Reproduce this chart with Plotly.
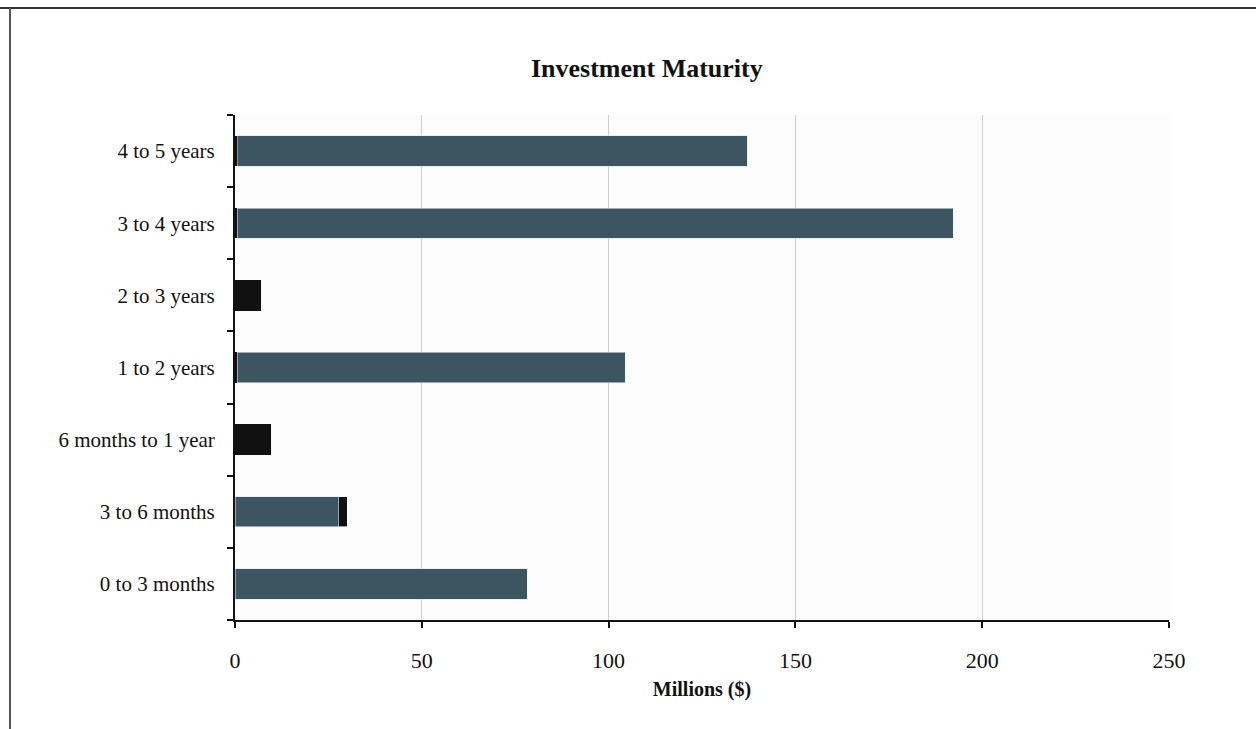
import plotly.graph_objects as go

categories = ["0 to 3 months", "3 to 6 months", "6 months to 1 year", "1 to 2 years",
              "2 to 3 years", "3 to 4 years", "4 to 5 years"]
lead_black = [0, 0, 9.9, 0.6, 7.2, 0.6, 0.8]
gray_vals = [78.4, 27.6, 0, 103.8, 0, 191.6, 136.5]
tail_black = [0, 2.5, 0, 0, 0, 0, 0]
x_ticks = [0, 50, 100, 150, 200, 250]

SERIF = "Liberation Serif, Times New Roman, serif"

fig = go.Figure()
fig.add_trace(go.Bar(y=categories, x=lead_black, orientation="h",
                     marker=dict(color="#111111", line=dict(width=0)), showlegend=False))
fig.add_trace(go.Bar(y=categories, x=gray_vals, orientation="h",
                     marker=dict(color="#3d5560", line=dict(width=0.6, color="#dfe4e6")), showlegend=False))
fig.add_trace(go.Bar(y=categories, x=tail_black, orientation="h",
                     marker=dict(color="#111111", line=dict(width=0.6, color="#ffffff")), showlegend=False))

fig.update_layout(
    barmode="stack",
    bargap=0.58,
    width=1256, height=729,
    margin=dict(l=235, r=87, t=115, b=109),
    paper_bgcolor="white",
    plot_bgcolor="#fcfcfc",
    title=dict(text="<b>Investment Maturity</b>", x=0.515, xanchor="center",
               y=1 - 68 / 729, yanchor="middle",
               font=dict(family=SERIF, size=26, color="#111111")),
    font=dict(family=SERIF, color="#111111"),
    xaxis=dict(range=[0, 250], tickvals=x_ticks, ticktext=[str(v) for v in x_ticks],
               showgrid=True, gridcolor="#cfcfcf", gridwidth=1,
               showline=True, linecolor="#111111", linewidth=2,
               ticks="outside", ticklen=6, tickwidth=2, tickcolor="#111111",
               ticklabelstandoff=14,
               tickfont=dict(family=SERIF, size=22, color="#111111"),
               zeroline=False,
               title=dict(text="<b>Millions ($)</b>", standoff=10,
                          font=dict(family=SERIF, size=20, color="#111111"))),
    yaxis=dict(categoryorder="array", categoryarray=categories,
               showline=True, linecolor="#111111", linewidth=2,
               ticks="outside", ticklen=6, tickwidth=2, tickcolor="#111111",
               tickson="boundaries", ticklabelstandoff=14,
               showgrid=False,
               tickfont=dict(family=SERIF, size=21, color="#111111")),
    shapes=[
        dict(type="line", xref="paper", yref="paper", x0=-235/934, x1=(1256-235)/934,
             y0=1 + (115-8)/505, y1=1 + (115-8)/505, line=dict(color="#333333", width=2)),
        dict(type="line", xref="paper", yref="paper", x0=-(235-10)/934, x1=-(235-10)/934,
             y0=1 + (115-8)/505, y1=-(729-620)/505, line=dict(color="#555555", width=2)),
    ],
)

fig.write_html("out.html")
